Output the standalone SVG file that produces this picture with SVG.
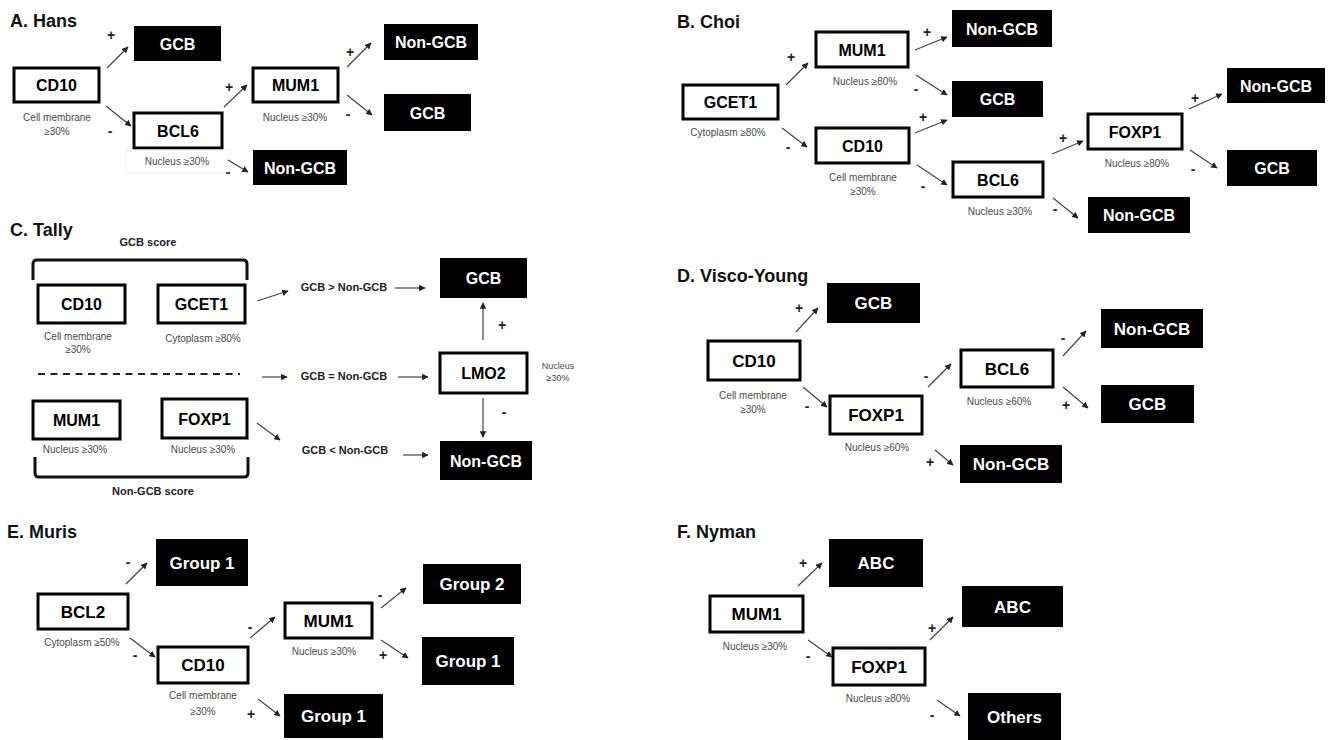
<svg xmlns="http://www.w3.org/2000/svg" width="1334" height="740" viewBox="0 0 1334 740">
<defs>
<marker id="ah" viewBox="0 0 10 10" refX="9" refY="5" markerWidth="6.5" markerHeight="6.5" markerUnits="userSpaceOnUse" orient="auto"><path d="M0,0 L10,5 L0,10 z" fill="#222"/></marker>
<style>
.w{fill:#fff;stroke:#000;stroke-width:3}
.b{fill:#000}
.tb{font-family:"Liberation Sans",Arial,sans-serif;font-weight:bold;font-size:16px;fill:#000;text-anchor:middle}
.tw{font-family:"Liberation Sans",Arial,sans-serif;font-weight:bold;font-size:16px;fill:#fff;text-anchor:middle}
.big .tb,.big .tw{font-size:17px}
.ttl{font-family:"Liberation Sans",Arial,sans-serif;font-weight:bold;font-size:18px;fill:#111}
.s{font-family:"Liberation Sans",Arial,sans-serif;font-size:10px;fill:#4a4a4a;text-anchor:middle}
.sg{font-family:"Liberation Sans",Arial,sans-serif;font-weight:bold;font-size:14px;fill:#222;text-anchor:middle}
.lb{font-family:"Liberation Sans",Arial,sans-serif;font-weight:bold;font-size:11px;fill:#222;text-anchor:middle}
.cn line{stroke:#444;stroke-width:1.2;marker-end:url(#ah)}
.br{fill:none;stroke:#111;stroke-width:3}
</style>
</defs>
<rect width="1334" height="740" fill="#fff"/>

<!-- Panel A -->
<text class="ttl" x="10" y="27">A. Hans</text>
<g id="A_cd10"><rect class="w" x="14" y="68" width="85" height="34"/><text class="tb" x="56.5" y="91">CD10</text><text class="s" x="57" y="121">Cell membrane</text><text class="s" x="57" y="135">≥30%</text></g>
<g id="A_gcb1"><rect class="b" x="134" y="26" width="87" height="35"/><text class="tw" x="177.5" y="49.5">GCB</text></g>
<g id="A_bcl6"><rect class="w" x="134" y="113" width="88" height="35"/><text class="tb" x="178" y="136.5">BCL6</text><rect x="126" y="150" width="104" height="23" fill="none" stroke="#efefef"/><text class="s" x="177" y="165">Nucleus  ≥30%</text></g>
<g id="A_mum1"><rect class="w" x="253" y="68" width="85" height="34"/><text class="tb" x="295.5" y="91">MUM1</text><text class="s" x="295" y="121">Nucleus  ≥30%</text></g>
<g id="A_ngcb1"><rect class="b" x="384" y="24" width="94" height="36"/><text class="tw" x="431" y="48">Non-GCB</text></g>
<g id="A_gcb2"><rect class="b" x="384" y="94" width="87" height="37"/><text class="tw" x="427.5" y="118.5">GCB</text></g>
<g id="A_ngcb2"><rect class="b" x="253" y="150" width="94" height="35"/><text class="tw" x="300" y="173.5">Non-GCB</text></g>

<!-- Panel B -->
<text class="ttl" x="677" y="28">B. Choi</text>
<g id="B_gcet1"><rect class="w" x="683" y="85" width="95" height="34"/><text class="tb" x="730.5" y="108">GCET1</text><text class="s" x="728" y="136">Cytoplasm ≥80%</text></g>
<g id="B_mum1"><rect class="w" x="816" y="32" width="92" height="35"/><text class="tb" x="862" y="55.5">MUM1</text><text class="s" x="865" y="85">Nucleus ≥80%</text></g>
<g id="B_cd10"><rect class="w" x="816" y="128" width="93" height="35"/><text class="tb" x="862.5" y="151.5">CD10</text><text class="s" x="863" y="181">Cell membrane</text><text class="s" x="863" y="195">≥30%</text></g>
<g id="B_ngcb1"><rect class="b" x="952" y="10" width="100" height="37"/><text class="tw" x="1002" y="34.5">Non-GCB</text></g>
<g id="B_gcb1"><rect class="b" x="952" y="81" width="91" height="36"/><text class="tw" x="997.5" y="105">GCB</text></g>
<g id="B_bcl6"><rect class="w" x="953" y="162" width="90" height="35"/><text class="tb" x="998" y="185.5">BCL6</text><text class="s" x="1000" y="215">Nucleus  ≥30%</text></g>
<g id="B_foxp1"><rect class="w" x="1088" y="114" width="94" height="35"/><text class="tb" x="1135" y="137.5">FOXP1</text><text class="s" x="1137" y="167">Nucleus ≥80%</text></g>
<g id="B_ngcb2"><rect class="b" x="1227" y="68" width="98" height="35"/><text class="tw" x="1276" y="91.5">Non-GCB</text></g>
<g id="B_gcb2"><rect class="b" x="1227" y="150" width="90" height="36"/><text class="tw" x="1272" y="174">GCB</text></g>
<g id="B_ngcb3"><rect class="b" x="1088" y="197" width="102" height="36"/><text class="tw" x="1139" y="221">Non-GCB</text></g>

<!-- Panel C -->
<text class="ttl" x="10" y="236">C. Tally</text>
<g id="C_scores"><text class="lb" x="148" y="246">GCB score</text><path class="br" d="M33,280 V264 Q33,260 37,260 H243 Q247,260 247,264 V280"/><line x1="38" y1="374" x2="240" y2="374" stroke="#222" stroke-width="2" stroke-dasharray="7,5.5"/><path class="br" d="M35,457 V473 Q35,477 39,477 H244 Q248,477 248,473 V457"/><text class="lb" x="153" y="495">Non-GCB score</text></g>
<g id="C_cd10"><rect class="w" x="38" y="285" width="87" height="38"/><text class="tb" x="81.5" y="310">CD10</text><text class="s" x="78" y="340">Cell membrane</text><text class="s" x="78" y="353">≥30%</text></g>
<g id="C_gcet1"><rect class="w" x="158" y="285" width="87" height="38"/><text class="tb" x="201.5" y="310">GCET1</text><text class="s" x="203" y="342">Cytoplasm ≥80%</text></g>
<g id="C_mum1"><rect class="w" x="33" y="401" width="87" height="38"/><text class="tb" x="76.5" y="426">MUM1</text><text class="s" x="75" y="453">Nucleus ≥30%</text></g>
<g id="C_foxp1"><rect class="w" x="162" y="399" width="85" height="39"/><text class="tb" x="204.5" y="424.5">FOXP1</text><text class="s" x="203" y="453">Nucleus ≥30%</text></g>
<g id="C_cmp"><text class="lb" x="344" y="291">GCB &gt; Non-GCB</text><text class="lb" x="344" y="380">GCB = Non-GCB</text><text class="lb" x="345" y="454">GCB &lt; Non-GCB</text></g>
<g id="C_gcb"><rect class="b" x="440" y="258" width="87" height="40"/><text class="tw" x="483.5" y="284">GCB</text></g>
<g id="C_lmo2"><rect class="w" x="440" y="353" width="87" height="40"/><text class="tb" x="483.5" y="379">LMO2</text><text class="s" x="558" y="369" style="font-size:9px">Nucleus</text><text class="s" x="558" y="381" style="font-size:9px">≥30%</text></g>
<g id="C_ngcb"><rect class="b" x="440" y="441" width="92" height="39"/><text class="tw" x="486" y="466.5">Non-GCB</text></g>

<!-- Panel D -->
<text class="ttl" x="677" y="282">D. Visco-Young</text>
<g class="big">
<g id="D_gcb1"><rect class="b" x="827" y="283" width="93" height="40"/><text class="tw" x="873.5" y="309">GCB</text></g>
<g id="D_cd10"><rect class="w" x="708" y="341" width="92" height="39"/><text class="tb" x="754" y="366.5">CD10</text><text class="s" x="753" y="399">Cell membrane</text><text class="s" x="753" y="413">≥30%</text></g>
<g id="D_foxp1"><rect class="w" x="830" y="396" width="92" height="38"/><text class="tb" x="876" y="421">FOXP1</text><text class="s" x="877" y="451">Nucleus ≥60%</text></g>
<g id="D_bcl6"><rect class="w" x="961" y="350" width="92" height="37"/><text class="tb" x="1007" y="374.5">BCL6</text><text class="s" x="999" y="405">Nucleus ≥60%</text></g>
<g id="D_ngcb1"><rect class="b" x="1101" y="309" width="102" height="39"/><text class="tw" x="1152" y="334.5">Non-GCB</text></g>
<g id="D_gcb2"><rect class="b" x="1101" y="385" width="93" height="38"/><text class="tw" x="1147.5" y="410">GCB</text></g>
<g id="D_ngcb2"><rect class="b" x="960" y="445" width="102" height="38"/><text class="tw" x="1011" y="470">Non-GCB</text></g>
</g>

<!-- Panel E -->
<text class="ttl" x="7" y="538">E. Muris</text>
<g class="big">
<g id="E_g1a"><rect class="b" x="156" y="539" width="92" height="47"/><text class="tw" x="202" y="568.5">Group 1</text></g>
<g id="E_bcl2"><rect class="w" x="38" y="594" width="90" height="35"/><text class="tb" x="83" y="617.5">BCL2</text><text class="s" x="82" y="646">Cytoplasm ≥50%</text></g>
<g id="E_cd10"><rect class="w" x="158" y="647" width="90" height="36"/><text class="tb" x="203" y="671">CD10</text><text class="s" x="203" y="699">Cell membrane</text><text class="s" x="203" y="715">≥30%</text></g>
<g id="E_mum1"><rect class="w" x="285" y="603" width="87" height="35"/><text class="tb" x="328.5" y="626.5">MUM1</text><text class="s" x="324" y="655">Nucleus ≥30%</text></g>
<g id="E_g2"><rect class="b" x="423" y="564" width="98" height="40"/><text class="tw" x="472" y="590">Group 2</text></g>
<g id="E_g1b"><rect class="b" x="422" y="637" width="92" height="48"/><text class="tw" x="468" y="667">Group 1</text></g>
<g id="E_g1c"><rect class="b" x="284" y="694" width="99" height="44"/><text class="tw" x="333.5" y="722">Group 1</text></g>
</g>

<!-- Panel F -->
<text class="ttl" x="677" y="538">F. Nyman</text>
<g class="big">
<g id="F_abc1"><rect class="b" x="829" y="539" width="94" height="48"/><text class="tw" x="876" y="569">ABC</text></g>
<g id="F_mum1"><rect class="w" x="710" y="596" width="93" height="36"/><text class="tb" x="756.5" y="620">MUM1</text><text class="s" x="755" y="650">Nucleus  ≥30%</text></g>
<g id="F_foxp1"><rect class="w" x="833" y="648" width="92" height="37"/><text class="tb" x="879" y="672.5">FOXP1</text><text class="s" x="878" y="702">Nucleus ≥80%</text></g>
<g id="F_abc2"><rect class="b" x="962" y="586" width="101" height="41"/><text class="tw" x="1012.5" y="612.5">ABC</text></g>
<g id="F_others"><rect class="b" x="968" y="693" width="93" height="47"/><text class="tw" x="1014.5" y="722.5">Others</text></g>
</g>

<!-- connectors -->
<g id="connectors" class="cn">
<line x1="107" y1="68" x2="128" y2="47"/>
<line x1="106" y1="106" x2="131" y2="126"/>
<line x1="224" y1="107" x2="247" y2="85"/>
<line x1="347" y1="67" x2="371" y2="43"/>
<line x1="347" y1="95" x2="372" y2="115"/>
<line x1="228" y1="160" x2="248" y2="172"/>

<line x1="786" y1="85" x2="808" y2="63"/>
<line x1="782" y1="128" x2="807" y2="147"/>
<line x1="915" y1="50" x2="947" y2="37"/>
<line x1="916" y1="75" x2="947" y2="95"/>
<line x1="915" y1="133" x2="947" y2="120"/>
<line x1="917" y1="165" x2="947" y2="185"/>
<line x1="1052" y1="154" x2="1083" y2="141"/>
<line x1="1053" y1="198" x2="1078" y2="218"/>
<line x1="1189" y1="109" x2="1222" y2="94"/>
<line x1="1190" y1="150" x2="1217" y2="168"/>

<line x1="257" y1="301" x2="288" y2="291"/>
<line x1="262" y1="377" x2="287" y2="377"/>
<line x1="257" y1="423" x2="280" y2="440"/>
<line x1="395" y1="288" x2="425" y2="288"/>
<line x1="398" y1="377" x2="428" y2="377"/>
<line x1="403" y1="455" x2="428" y2="455"/>
<line x1="483" y1="340" x2="483" y2="303"/>
<line x1="483" y1="398" x2="483" y2="437"/>

<line x1="796" y1="332" x2="818" y2="308"/>
<line x1="803" y1="387" x2="827" y2="407"/>
<line x1="928" y1="387" x2="951" y2="364"/>
<line x1="935" y1="450" x2="953" y2="465"/>
<line x1="1063" y1="356" x2="1086" y2="331"/>
<line x1="1063" y1="387" x2="1088" y2="408"/>

<line x1="126" y1="584" x2="147" y2="563"/>
<line x1="130" y1="638" x2="155" y2="657"/>
<line x1="250" y1="638" x2="275" y2="617"/>
<line x1="381" y1="608" x2="406" y2="588"/>
<line x1="381" y1="640" x2="408" y2="658"/>
<line x1="258" y1="699" x2="280" y2="716"/>

<line x1="798" y1="586" x2="822" y2="563"/>
<line x1="808" y1="640" x2="832" y2="657"/>
<line x1="930" y1="640" x2="953" y2="617"/>
<line x1="937" y1="700" x2="960" y2="716"/>
</g>

<!-- signs -->
<g id="signs">
<text class="sg" x="111" y="40">+</text><text class="sg" x="110" y="136">-</text><text class="sg" x="229" y="92">+</text><text class="sg" x="350" y="57">+</text><text class="sg" x="348" y="119">-</text><text class="sg" x="228" y="177">-</text>
<text class="sg" x="791" y="62">+</text><text class="sg" x="788" y="152">-</text><text class="sg" x="927" y="37">+</text><text class="sg" x="916" y="94">-</text><text class="sg" x="923" y="122">+</text><text class="sg" x="923" y="191">-</text><text class="sg" x="1063" y="143">+</text><text class="sg" x="1055" y="214">-</text><text class="sg" x="1195" y="103">+</text><text class="sg" x="1193" y="174">-</text>
<text class="sg" x="502" y="330">+</text><text class="sg" x="504" y="417">-</text>
<text class="sg" x="799" y="313">+</text><text class="sg" x="807" y="411">-</text><text class="sg" x="926" y="381">-</text><text class="sg" x="930" y="467">+</text><text class="sg" x="1063" y="343">-</text><text class="sg" x="1066" y="410">+</text>
<text class="sg" x="128" y="567">-</text><text class="sg" x="135" y="660">-</text><text class="sg" x="250" y="632">-</text><text class="sg" x="380" y="600">-</text><text class="sg" x="383" y="660">+</text><text class="sg" x="251" y="719">+</text>
<text class="sg" x="803" y="568">+</text><text class="sg" x="808" y="661">-</text><text class="sg" x="932" y="633">+</text><text class="sg" x="932" y="720">-</text>
</g>
</svg>
